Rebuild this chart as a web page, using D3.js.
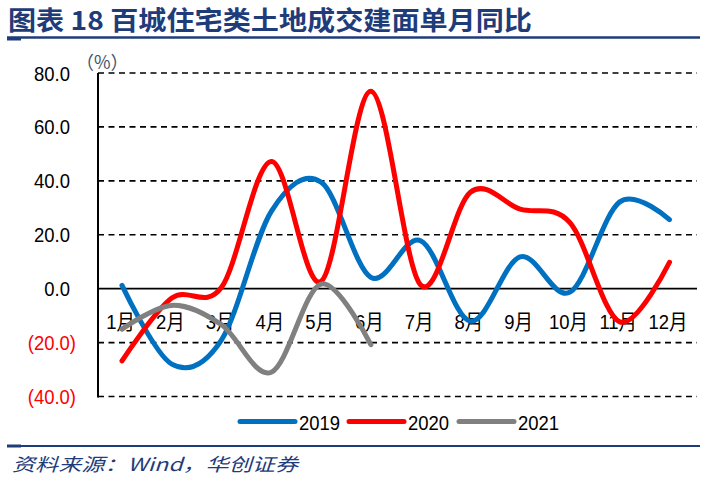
<!DOCTYPE html>
<head>
  <meta charset="utf-8">
  <title>百城住宅类土地成交建面单月同比</title>
  <script src="https://d3js.org/d3.v7.min.js"></script>
  <style>
    body { margin: 0; background: #fff; }
    text { font-family: "Liberation Sans", Arial, "Noto Sans CJK SC", sans-serif; }
  </style>
</head>
<body>
<script>

  // data
  let months = ["1月","2月","3月","4月","5月","6月","7月","8月","9月","10月","11月","12月"];
  let y2019 = [1.2, -28.0, -19.0, 28.7, 39.5, 4.2, 17.8, -12.1, 11.8, -1.3, 32.2, 25.6];
  let y2020 = [-26.8, -3.5, 0.5, 47.2, 2.7, 73.2, 1.4, 35.8, 29.5, 24.5, -12.3, 9.8];
  let y2021 = [-15.0, -6.2, -13.4, -31.0, 1.7, -20.8];
  let yTicks = [80, 60, 40, 20, 0, -20, -40];
  let seriesNames = ["2019", "2020", "2021"];
  let seriesColors = ["#0070C0", "#FF0000", "#808080"];

  let width = 705;
  let height = 483;
  let narrow = 0.88;   // the chart text is a bit condensed

  let svg = d3.select("body").append("svg")
      .attr("width", width)
      .attr("height", height);

  // title + rule
  svg.append("text")
      .attr("x", 8)
      .attr("y", 30)
      .attr("textLength", 524)
      .attr("lengthAdjust", "spacingAndGlyphs")
      .style("font-family", "'Noto Sans CJK SC', sans-serif")
      .style("font-weight", "bold")
      .style("font-size", "26px")
      .style("fill", "#1F3C7A")
      .text("图表 18  百城住宅类土地成交建面单月同比");

  svg.append("line")
      .attr("x1", 7).attr("x2", 700)
      .attr("y1", 37.5).attr("y2", 37.5)
      .style("stroke", "#1F3C7A")
      .style("stroke-width", 2.5);

  svg.append("rect")
      .attr("x", 7).attr("y", 37).attr("width", 14).attr("height", 3.5)
      .style("fill", "#1F3C7A");

  // scales
  let x = d3.scalePoint()
      .domain(months)
      .range([122, 669.5]);

  let y = d3.scaleLinear()
      .domain([-40, 80])
      .range([396.5, 73]);

  // grid
  let grid = svg.append("g").attr("id", "grid");

  grid.selectAll("line")
      .data(yTicks)
      .enter()
      .append("line")
      .attr("x1", 98).attr("x2", 697)
      .attr("y1", d => y(d)).attr("y2", d => y(d))
      .style("stroke", "#000")
      .style("stroke-width", 1.6)
      .style("stroke-dasharray", d => d === 0 ? null : "6,4.5");

  svg.append("line")
      .attr("x1", 98).attr("x2", 98)
      .attr("y1", y(80)).attr("y2", y(-40) + 1)
      .style("stroke", "#000")
      .style("stroke-width", 2);

  // y tick labels
  svg.append("g").selectAll("text")
      .data(yTicks)
      .enter()
      .append("text")
      .attr("transform", d => "translate(" + (d < 0 ? 76 : 70) + "," + y(d) + ") scale(" + narrow + ",1)")
      .attr("dy", "0.36em")
      .attr("text-anchor", "end")
      .style("font-size", "21px")
      .style("fill", d => d < 0 ? "#FF0000" : "#000")
      .text(d => d < 0 ? "(" + d3.format(".1f")(-d) + ")" : d3.format(".1f")(d));

  svg.append("text")
      .attr("x", 76)
      .attr("y", 69)
      .style("font-family", "'Noto Sans CJK SC', sans-serif")
      .style("font-size", "18px")
      .style("fill", "#44546A")
      .text("（%）");

  // x labels (sit below the zero line)
  svg.append("g").selectAll("text")
      .data(months)
      .enter()
      .append("text")
      .attr("transform", d => "translate(" + (x(d) - 1.5) + ",329) scale(" + narrow + ",1)")
      .attr("text-anchor", "middle")
      .style("font-size", "21px")
      .style("fill", "#000")
      .text(d => d);

  // lines
  let line = d3.line()
      .x((d, i) => x(months[i]))
      .y(d => y(d))
      .curve(d3.curveCardinal.tension(0));

  let series = [y2019, y2020, y2021];

  svg.append("g").selectAll("path")
      .data(series)
      .enter()
      .append("path")
      .attr("d", d => line(d))
      .style("fill", "none")
      .style("stroke", (d, i) => seriesColors[i])
      .style("stroke-width", 5)
      .style("stroke-linecap", "round")
      .style("stroke-linejoin", "round");

  // legend
  let legendX = [240, 349, 459];
  let legend = svg.append("g").attr("id", "legend");

  legend.selectAll("line")
      .data(seriesNames)
      .enter()
      .append("line")
      .attr("x1", (d, i) => legendX[i])
      .attr("x2", (d, i) => legendX[i] + 55)
      .attr("y1", 421.5).attr("y2", 421.5)
      .style("stroke", (d, i) => seriesColors[i])
      .style("stroke-width", 5)
      .style("stroke-linecap", "round");

  legend.selectAll("text")
      .data(seriesNames)
      .enter()
      .append("text")
      .attr("transform", (d, i) => "translate(" + (legendX[i] + 59) + ",429.5) scale(" + narrow + ",1)")
      .style("font-size", "21px")
      .style("fill", "#000")
      .text(d => d);

  // source + rule
  svg.append("line")
      .attr("x1", 7).attr("x2", 700)
      .attr("y1", 446).attr("y2", 446)
      .style("stroke", "#1F3C7A")
      .style("stroke-width", 2.2);

  svg.append("rect")
      .attr("x", 7).attr("y", 444.5).attr("width", 14).attr("height", 3)
      .style("fill", "#1F3C7A");

  svg.append("text")
      .attr("x", 12)
      .attr("y", 471)
      .attr("textLength", 286)
      .attr("lengthAdjust", "spacingAndGlyphs")
      .style("font-family", "'Noto Sans CJK SC', serif")
      .style("font-style", "italic")
      .style("font-size", "18px")
      .style("fill", "#1F3C7A")
      .text("资料来源：Wind，华创证券");

</script>
</body>
